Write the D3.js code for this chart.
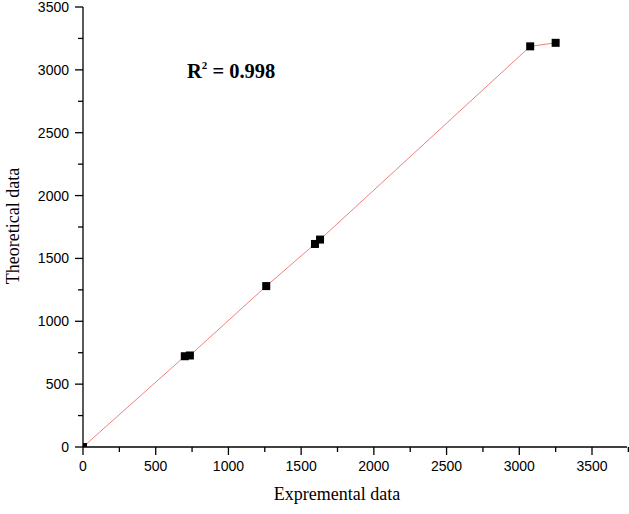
<!DOCTYPE html>
<html><head><meta charset="utf-8">
<script src="https://cdn.jsdelivr.net/npm/d3@7"></script>
<style>body{margin:0;background:#fff}</style>
</head><body>
<svg id="c" width="629" height="514"></svg>
<script>
const expData = [0, 700, 735, 1260, 1595, 1630, 3075, 3250];
const theoData = [0, 722, 728, 1280, 1615, 1650, 3187, 3215];
const xTicks = [0, 500, 1000, 1500, 2000, 2500, 3000, 3500];
const yTicks = [0, 500, 1000, 1500, 2000, 2500, 3000, 3500];
const xMinor = [250, 750, 1250, 1750, 2250, 2750, 3250, 3750];
const yMinor = [250, 750, 1250, 1750, 2250, 2750, 3250];
const rLabel = "0.998";

const svg = d3.select("#c");
const x = d3.scaleLinear().domain([0, 3500]).range([83, 592]);
const y = d3.scaleLinear().domain([0, 3500]).range([447, 7]);
const xEnd = 627;

svg.append("defs").append("clipPath").attr("id", "clip")
  .append("rect").attr("x", 83).attr("y", 0).attr("width", xEnd - 83).attr("height", 447);

const g = svg.append("g").attr("clip-path", "url(#clip)");
// line
const pts = expData.map((d, i) => [d, theoData[i]]);
g.append("path").datum(pts)
  .attr("d", d3.line().x(d => x(d[0])).y(d => y(d[1])))
  .attr("fill", "none").attr("stroke", "#f08080").attr("stroke-width", 1);

// points
g.selectAll("rect.p").data(pts).enter().append("rect")
  .attr("x", d => x(d[0]) - 4).attr("y", d => y(d[1]) - 4)
  .attr("width", 8).attr("height", 8).attr("fill", "#000");

// axes
const xa = svg.append("g").attr("transform", "translate(0,447)");
xa.append("line").attr("x1", 83).attr("x2", xEnd).attr("stroke", "#000").attr("stroke-width", 1.3);
xTicks.forEach(t => {
  xa.append("line").attr("x1", x(t)).attr("x2", x(t)).attr("y1", 0).attr("y2", 8).attr("stroke", "#000").attr("stroke-width", 1.3);
  xa.append("text").attr("x", x(t)).attr("y", 24).attr("text-anchor", "middle")
    .attr("font-family", "Liberation Sans, Arial").attr("font-size", 14).text(t);
});
xMinor.forEach(t => {
  xa.append("line").attr("x1", x(t)).attr("x2", x(t)).attr("y1", 0).attr("y2", 5).attr("stroke", "#000").attr("stroke-width", 1.3);
});
const ya = svg.append("g").attr("transform", "translate(83,0)");
ya.append("line").attr("y1", y(0)).attr("y2", y(3500)).attr("stroke", "#000").attr("stroke-width", 1.3);
yTicks.forEach(t => {
  ya.append("line").attr("y1", y(t)).attr("y2", y(t)).attr("x1", 0).attr("x2", -8).attr("stroke", "#000").attr("stroke-width", 1.3);
  ya.append("text").attr("x", -14).attr("y", y(t) + 5).attr("text-anchor", "end")
    .attr("font-family", "Liberation Sans, Arial").attr("font-size", 14).text(t);
});
yMinor.forEach(t => {
  ya.append("line").attr("y1", y(t)).attr("y2", y(t)).attr("x1", 0).attr("x2", -5).attr("stroke", "#000").attr("stroke-width", 1.3);
});

// titles
svg.append("text").attr("x", 337).attr("y", 500).attr("text-anchor", "middle")
  .attr("font-family", "Liberation Serif, Times New Roman").attr("font-size", 18).text("Expremental data");
svg.append("text").attr("transform", "translate(19,226) rotate(-90)").attr("text-anchor", "middle")
  .attr("font-family", "Liberation Serif, Times New Roman").attr("font-size", 18).text("Theoretical data");

const rt = svg.append("text").attr("x", 187).attr("y", 78)
  .attr("font-family", "Liberation Serif, Times New Roman").attr("font-size", 20.5).attr("font-weight", "bold");
rt.append("tspan").text("R");
rt.append("tspan").attr("font-size", 11).attr("dy", -9).text("2");
rt.append("tspan").attr("dy", 9).text(" = " + rLabel);
</script>
</body></html>
